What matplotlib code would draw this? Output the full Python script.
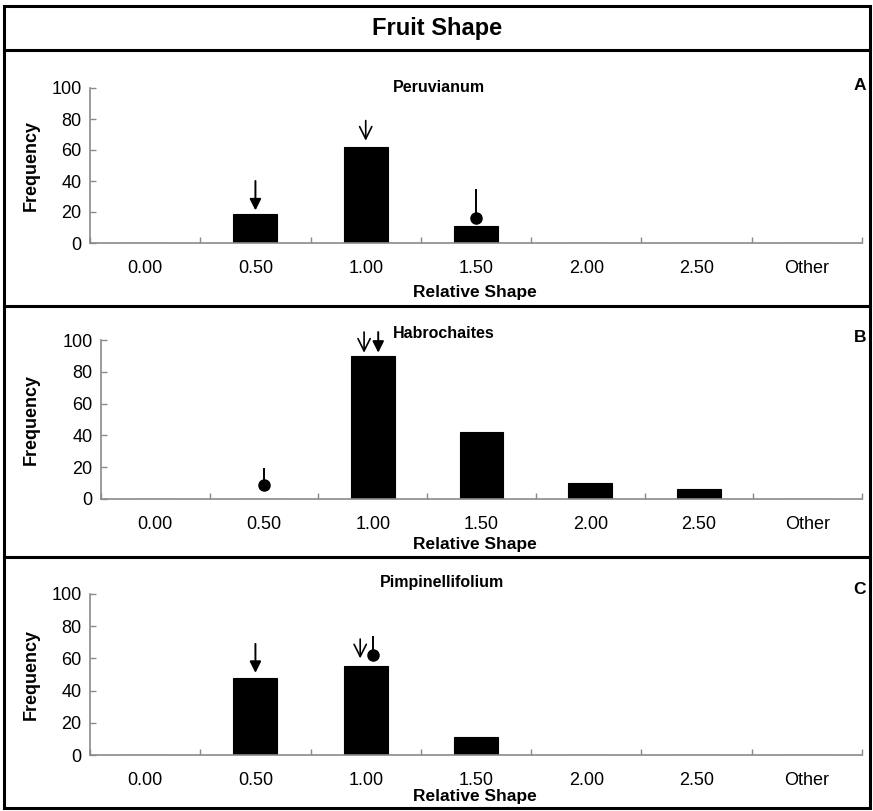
import matplotlib
matplotlib.use("Agg")
import matplotlib.pyplot as plt
from matplotlib.lines import Line2D
from matplotlib.patches import Rectangle

plt.rcParams['font.family'] = ['Liberation Sans', 'DejaVu Sans']

# ---------------- data ----------------
categories = ["0.00", "0.50", "1.00", "1.50", "2.00", "2.50", "Other"]
peruvianum = [0, 19, 62, 11, 0, 0, 0]
habrochaites = [0, 0, 90, 42, 10, 6, 0]
pimpinellifolium = [0, 48, 55, 11, 0, 0, 0]

panel_titles = ["Peruvianum", "Habrochaites", "Pimpinellifolium"]
panel_letters = ["A", "B", "C"]
yticks = [0, 20, 40, 60, 80, 100]

# markers: (kind, x in category units, tip/dot value, top value)
markers_a = [("filled", 1.0, 21, 40), ("open", 2.0, 66, 79), ("dot", 3.0, 16, 34)]
markers_b = [("dot", 1.0, 9, 19), ("open", 1.92, 92, 105), ("filled", 2.05, 92, 105)]
markers_c = [("filled", 1.0, 51, 69), ("open", 1.95, 60, 72), ("dot", 2.07, 62, 73)]

# ---------------- layout ----------------
W, H = 873, 811
fig = plt.figure(figsize=(W / 100, H / 100), dpi=100)

def fx(px):
    return px / W

def fy(py):
    return 1 - py / H

# axes pixel boxes: x0, x1, y(100), y(0)
boxes = [(90, 862, 88, 243), (101, 862, 340, 499), (90, 862, 594, 755)]
series = [peruvianum, habrochaites, pimpinellifolium]
markers = [markers_a, markers_b, markers_c]
title_pos = [(439, 88), (444, 333), (442, 583)]
letter_y = [85, 338, 589]
xlabel_y = [292, 544, 797]
gray = "#8a8a8a"

for i in range(3):
    x0, x1, yt, yb = boxes[i]
    ax = fig.add_axes([fx(x0), fy(yb), fx(x1) - fx(x0), fy(yt) - fy(yb)])
    xs = list(range(len(categories)))
    ax.bar(xs, series[i], width=0.4, color="black", edgecolor="black", linewidth=0.8)
    ax.set_xlim(-0.5, len(categories) - 0.5)
    ax.set_ylim(0, 100)
    for s in ["top", "right"]:
        ax.spines[s].set_visible(False)
    for s in ["left", "bottom"]:
        ax.spines[s].set_color(gray)
        ax.spines[s].set_linewidth(1.2)
    ax.set_xticks(xs)
    ax.set_xticklabels(categories)
    ax.set_xticks([k - 0.5 for k in range(len(categories) + 1)], minor=True)
    ax.tick_params(axis="x", which="major", length=0, pad=12, labelsize=13)
    ax.tick_params(axis="x", which="minor", length=4, direction="in", color=gray, width=1)
    ax.set_yticks(yticks)
    ax.tick_params(axis="y", length=4, direction="in", color=gray, width=1, labelsize=13, pad=6)
    ax.set_facecolor("none")

    for kind, xm, tip, top in markers[i]:
        if kind == "filled":
            ax.annotate("", xy=(xm, tip), xytext=(xm, top),
                        arrowprops=dict(arrowstyle="-|>", color="black", lw=1.4,
                                        mutation_scale=17, shrinkA=0, shrinkB=0),
                        annotation_clip=False)
        elif kind == "open":
            ax.annotate("", xy=(xm, tip), xytext=(xm, top),
                        arrowprops=dict(arrowstyle="->", color="black", lw=1.2,
                                        mutation_scale=22, shrinkA=0, shrinkB=0),
                        annotation_clip=False)
        else:
            ax.plot([xm, xm], [tip, top], color="black", lw=1.4, clip_on=False)
            ax.plot([xm], [tip], "o", color="black", ms=8, clip_on=False)

    tx, ty = title_pos[i]
    fig.text(fx(tx), fy(ty), panel_titles[i], ha="center", va="center",
             fontsize=11.5, fontweight="bold")
    fig.text(fx(860), fy(letter_y[i]), panel_letters[i], ha="center", va="center",
             fontsize=12.5, fontweight="bold")
    fig.text(fx(475), fy(xlabel_y[i]), "Relative Shape", ha="center", va="center",
             fontsize=12.5, fontweight="bold")
    fig.text(fx(31), fy((yt + yb) / 2), "Frequency", ha="center", va="center",
             rotation=90, fontsize=13, fontweight="bold")

# title
fig.text(fx(437), fy(28), "Fruit Shape", ha="center", va="center",
         fontsize=17, fontweight="bold")

# frame and separators
fig.add_artist(Rectangle((fx(4), fy(808)), fx(870) - fx(4), fy(6) - fy(808),
                         transform=fig.transFigure, fill=False, edgecolor="black",
                         linewidth=2.2))
for yy in [50, 306, 557]:
    fig.add_artist(Line2D([fx(4), fx(870)], [fy(yy), fy(yy)],
                          transform=fig.transFigure, color="black", linewidth=2.2))

fig.savefig("out.png", dpi=100, facecolor="white")
